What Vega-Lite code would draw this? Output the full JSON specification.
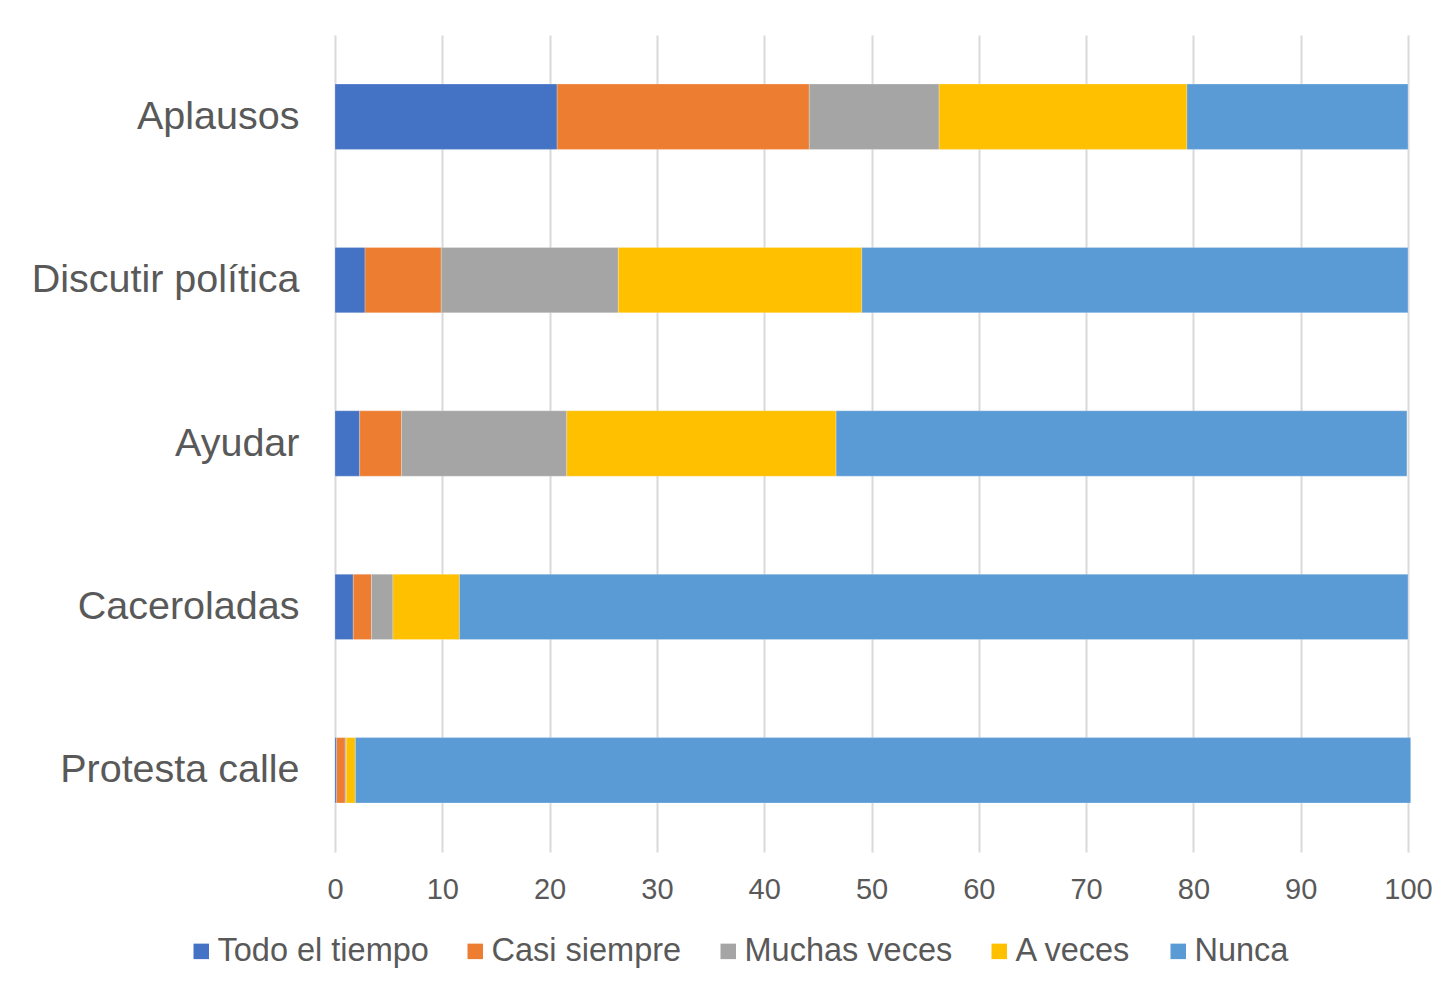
{
  "$schema": "https://vega.github.io/schema/vega-lite/v6.json",
  "autosize": "none",
  "width": 1073,
  "height": 817,
  "padding": {"left": 335, "top": 35, "right": 37, "bottom": 133},
  "background": "white",
  "data": {
    "values": [
      {"act": "Aplausos\u00a0", "cat": "Todo el tiempo", "o": 1, "v": 20.7},
      {"act": "Aplausos\u00a0", "cat": "Casi siempre", "o": 2, "v": 23.5},
      {"act": "Aplausos\u00a0", "cat": "Muchas veces", "o": 3, "v": 12.1},
      {"act": "Aplausos\u00a0", "cat": "A veces", "o": 4, "v": 23.1},
      {"act": "Aplausos\u00a0", "cat": "Nunca", "o": 5, "v": 20.6},
      {"act": "Discutir política", "cat": "Todo el tiempo", "o": 1, "v": 2.8},
      {"act": "Discutir política", "cat": "Casi siempre", "o": 2, "v": 7.1},
      {"act": "Discutir política", "cat": "Muchas veces", "o": 3, "v": 16.5},
      {"act": "Discutir política", "cat": "A veces", "o": 4, "v": 22.7},
      {"act": "Discutir política", "cat": "Nunca", "o": 5, "v": 50.9},
      {"act": "Ayudar", "cat": "Todo el tiempo", "o": 1, "v": 2.3},
      {"act": "Ayudar", "cat": "Casi siempre", "o": 2, "v": 3.9},
      {"act": "Ayudar", "cat": "Muchas veces", "o": 3, "v": 15.4},
      {"act": "Ayudar", "cat": "A veces", "o": 4, "v": 25.1},
      {"act": "Ayudar", "cat": "Nunca", "o": 5, "v": 53.2},
      {"act": "Caceroladas", "cat": "Todo el tiempo", "o": 1, "v": 1.7},
      {"act": "Caceroladas", "cat": "Casi siempre", "o": 2, "v": 1.7},
      {"act": "Caceroladas", "cat": "Muchas veces", "o": 3, "v": 2.0},
      {"act": "Caceroladas", "cat": "A veces", "o": 4, "v": 6.2},
      {"act": "Caceroladas", "cat": "Nunca", "o": 5, "v": 88.4},
      {"act": "Protesta calle", "cat": "Todo el tiempo", "o": 1, "v": 0.15},
      {"act": "Protesta calle", "cat": "Casi siempre", "o": 2, "v": 0.8},
      {"act": "Protesta calle", "cat": "Muchas veces", "o": 3, "v": 0.1},
      {"act": "Protesta calle", "cat": "A veces", "o": 4, "v": 0.85},
      {"act": "Protesta calle", "cat": "Nunca", "o": 5, "v": 98.35}
    ]
  },
  "mark": {"type": "bar", "stroke": "white", "strokeWidth": 0.4, "strokeOpacity": 0.6},
  "encoding": {
    "y": {
      "field": "act",
      "type": "nominal",
      "sort": ["Aplausos\u00a0", "Discutir política", "Ayudar", "Caceroladas", "Protesta calle"],
      "scale": {"paddingInner": 0.6, "paddingOuter": 0.3},
      "axis": {
        "title": null,
        "domain": false,
        "ticks": false,
        "labelFont": "Liberation Sans",
        "labelFontSize": 39.5,
        "labelColor": "#595959",
        "labelPadding": 36,
        "labelLimit": 400
      }
    },
    "x": {
      "field": "v",
      "type": "quantitative",
      "stack": "zero",
      "scale": {"domain": [0, 100], "nice": false},
      "axis": {
        "title": null,
        "values": [0, 10, 20, 30, 40, 50, 60, 70, 80, 90, 100],
        "domain": false,
        "ticks": false,
        "grid": true,
        "gridColor": "#d9d9d9",
        "gridWidth": 2,
        "labelFont": "Liberation Sans",
        "labelFontSize": 29,
        "labelColor": "#595959",
        "labelPadding": 23,
        "labelFlush": false
      }
    },
    "color": {
      "field": "cat",
      "type": "nominal",
      "sort": ["Todo el tiempo", "Casi siempre", "Muchas veces", "A veces", "Nunca"],
      "scale": {
        "domain": ["Todo el tiempo", "Casi siempre", "Muchas veces", "A veces", "Nunca"],
        "range": ["#4472C4", "#ED7D31", "#A5A5A5", "#FFC000", "#5B9BD5"]
      },
      "legend": {
        "title": null,
        "orient": "none",
        "direction": "horizontal",
        "columns": 5,
        "legendX": -150,
        "legendY": 900,
        "symbolType": "square",
        "symbolSize": 240,
        "symbolStrokeWidth": 0,
        "symbolOpacity": 1,
        "labelFont": "Liberation Sans",
        "labelFontSize": 32.5,
        "labelColor": "#595959",
        "labelOffset": 0,
        "columnPadding": 30,
        "labelLimit": 400
      }
    },
    "order": {"field": "o", "type": "quantitative"}
  },
  "config": {"view": {"stroke": null}}
}
